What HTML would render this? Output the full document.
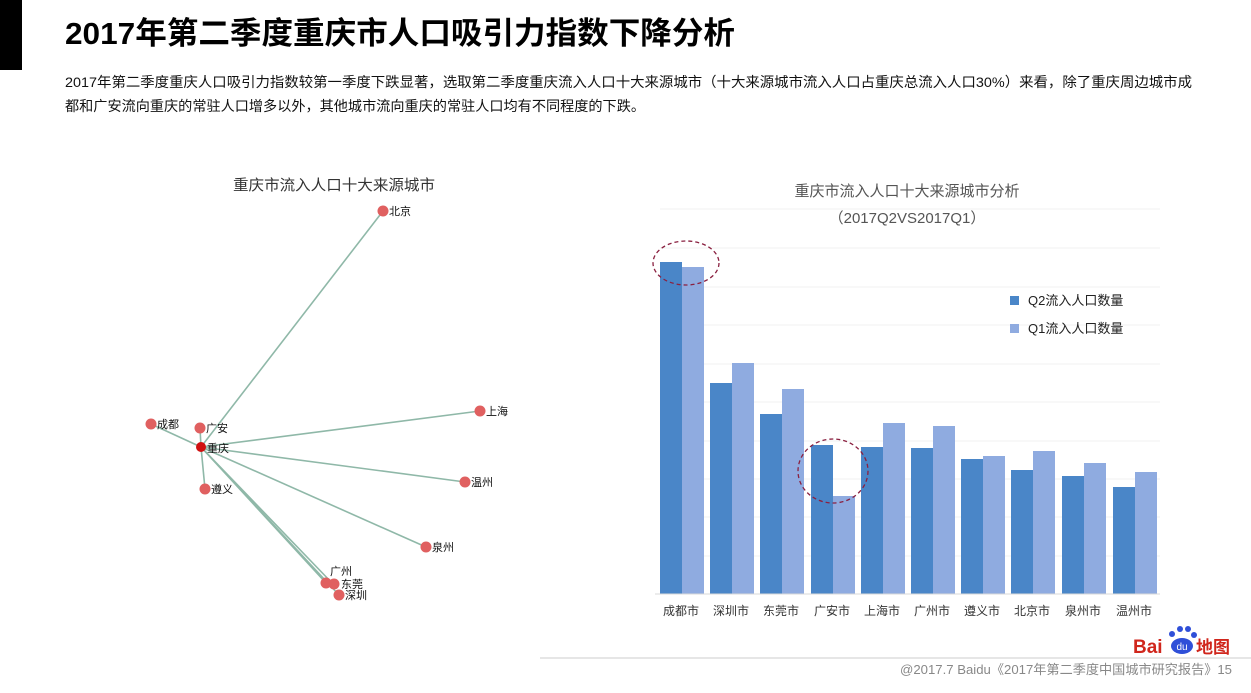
<!DOCTYPE html>
<html><head><meta charset="utf-8"><style>body{margin:0;background:#fff}svg{display:block}</style></head><body>
<svg width="1251" height="693" viewBox="0 0 1251 693" xmlns="http://www.w3.org/2000/svg" font-family="Liberation Sans, Noto Sans CJK SC, sans-serif">
<rect x="0" y="0" width="22" height="70" fill="#000"/>
<text x="65" y="44" font-size="31" font-weight="bold" textLength="670" lengthAdjust="spacingAndGlyphs" fill="#000">2017年第二季度重庆市人口吸引力指数下降分析</text>
<text x="65" y="87" font-size="14" textLength="1127" lengthAdjust="spacingAndGlyphs" fill="#111">2017年第二季度重庆人口吸引力指数较第一季度下跌显著，选取第二季度重庆流入人口十大来源城市（十大来源城市流入人口占重庆总流入人口30%）来看，除了重庆周边城市成</text>
<text x="65" y="111" font-size="14" textLength="580" lengthAdjust="spacingAndGlyphs" fill="#111">都和广安流向重庆的常驻人口增多以外，其他城市流向重庆的常驻人口均有不同程度的下跌。</text>
<text x="334" y="190" font-size="15" text-anchor="middle" fill="#333" textLength="202" lengthAdjust="spacingAndGlyphs">重庆市流入人口十大来源城市</text>
<g stroke="#8fb8a8" stroke-width="1.6" fill="none">
<line x1="201" y1="447" x2="383" y2="211"/>
<line x1="201" y1="447" x2="151" y2="424"/>
<line x1="201" y1="447" x2="200" y2="428"/>
<line x1="201" y1="447" x2="480" y2="411"/>
<line x1="201" y1="447" x2="465" y2="482"/>
<line x1="201" y1="447" x2="426" y2="547"/>
<line x1="201" y1="447" x2="205" y2="489"/>
<line x1="201" y1="447" x2="326" y2="583"/>
<line x1="201" y1="447" x2="333" y2="584"/>
<line x1="201" y1="447" x2="339" y2="595"/>
</g>
<g fill="#e06060">
<circle cx="383" cy="211" r="5.5"/><circle cx="151" cy="424" r="5.5"/><circle cx="200" cy="428" r="5.5"/><circle cx="480" cy="411" r="5.5"/><circle cx="465" cy="482" r="5.5"/><circle cx="426" cy="547" r="5.5"/><circle cx="205" cy="489" r="5.5"/><circle cx="326" cy="583" r="5.5"/><circle cx="334" cy="584" r="5.5"/><circle cx="339" cy="595" r="5.5"/>
</g>
<circle cx="201" cy="447" r="5" fill="#d01010"/>
<g font-size="11" fill="#111">
<text x="389" y="215">北京</text><text x="157" y="428">成都</text><text x="206" y="432">广安</text><text x="207" y="452">重庆</text><text x="486" y="415">上海</text><text x="471" y="486">温州</text><text x="432" y="551">泉州</text><text x="211" y="493">遵义</text><text x="330" y="575">广州</text><text x="341" y="588">东莞</text><text x="345" y="599">深圳</text>
</g>
<text x="907" y="196" font-size="15" text-anchor="middle" fill="#555">重庆市流入人口十大来源城市分析</text>
<text x="907" y="223" font-size="15" text-anchor="middle" fill="#555">（2017Q2VS2017Q1）</text>
<g stroke="#f0f0f0" stroke-width="1">
<line x1="660" y1="209" x2="1160" y2="209"/><line x1="660" y1="248" x2="1160" y2="248"/><line x1="660" y1="287" x2="1160" y2="287"/><line x1="660" y1="325" x2="1160" y2="325"/><line x1="660" y1="364" x2="1160" y2="364"/><line x1="660" y1="402" x2="1160" y2="402"/><line x1="660" y1="441" x2="1160" y2="441"/><line x1="660" y1="479" x2="1160" y2="479"/><line x1="660" y1="517" x2="1160" y2="517"/><line x1="660" y1="556" x2="1160" y2="556"/>
</g>
<g fill="#4a86c8">
<rect x="660" y="262" width="22" height="332"/><rect x="710" y="383" width="22" height="211"/><rect x="760" y="414" width="22" height="180"/><rect x="811" y="445" width="22" height="149"/><rect x="861" y="447" width="22" height="147"/><rect x="911" y="448" width="22" height="146"/><rect x="961" y="459" width="22" height="135"/><rect x="1011" y="470" width="22" height="124"/><rect x="1062" y="476" width="22" height="118"/><rect x="1113" y="487" width="22" height="107"/>
</g>
<g fill="#8fabe0">
<rect x="682" y="267" width="22" height="327"/><rect x="732" y="363" width="22" height="231"/><rect x="782" y="389" width="22" height="205"/><rect x="833" y="496" width="22" height="98"/><rect x="883" y="423" width="22" height="171"/><rect x="933" y="426" width="22" height="168"/><rect x="983" y="456" width="22" height="138"/><rect x="1033" y="451" width="22" height="143"/><rect x="1084" y="463" width="22" height="131"/><rect x="1135" y="472" width="22" height="122"/>
</g>
<line x1="655" y1="594" x2="1160" y2="594" stroke="#d9d9d9"/>
<g fill="none" stroke="#8a2040" stroke-width="1.3" stroke-dasharray="4,3">
<ellipse cx="686" cy="263" rx="33" ry="22"/><ellipse cx="833" cy="471" rx="35" ry="32"/>
</g>
<g font-size="12" fill="#333" text-anchor="middle">
<text x="681" y="615">成都市</text><text x="731" y="615">深圳市</text><text x="781" y="615">东莞市</text><text x="832" y="615">广安市</text><text x="882" y="615">上海市</text><text x="932" y="615">广州市</text><text x="982" y="615">遵义市</text><text x="1032" y="615">北京市</text><text x="1083" y="615">泉州市</text><text x="1134" y="615">温州市</text>
</g>
<rect x="1010" y="296" width="9" height="9" fill="#4a86c8"/>
<text x="1028" y="305" font-size="13" fill="#222">Q2流入人口数量</text>
<rect x="1010" y="324" width="9" height="9" fill="#8fabe0"/>
<text x="1028" y="333" font-size="13" fill="#222">Q1流入人口数量</text>
<text x="1133" y="653" font-size="19" font-weight="bold" fill="#d0261c">Bai</text>
<ellipse cx="1182" cy="646" rx="11" ry="8" fill="#2f4fd8"/>
<circle cx="1172" cy="634" r="3" fill="#2f4fd8"/><circle cx="1180" cy="629" r="3" fill="#2f4fd8"/><circle cx="1188" cy="629" r="3" fill="#2f4fd8"/><circle cx="1194" cy="635" r="3" fill="#2f4fd8"/>
<text x="1182" y="650" font-size="10" fill="#fff" text-anchor="middle">du</text>
<text x="1196" y="653" font-size="17" font-weight="bold" fill="#d0261c">地图</text>
<line x1="540" y1="658" x2="1251" y2="658" stroke="#ccc"/>
<text x="900" y="674" font-size="13" fill="#888" textLength="332" lengthAdjust="spacingAndGlyphs">@2017.7 Baidu《2017年第二季度中国城市研究报告》15</text>
</svg>
</body></html>
